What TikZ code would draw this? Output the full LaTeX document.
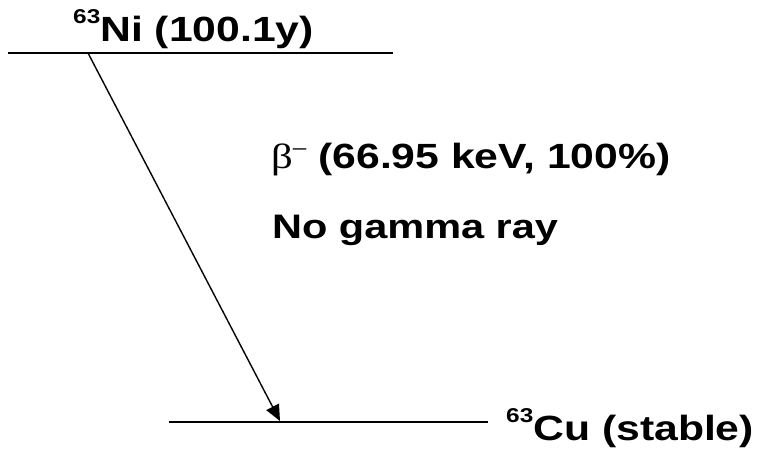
\documentclass[tikz,border=0pt]{standalone}
\usepackage{fontspec}
\setmainfont{Liberation Sans}[FakeStretch=1.22]
\newfontfamily\greekfont{Liberation Serif}[FakeStretch=1.22]
\usetikzlibrary{arrows.meta,positioning}
\newcommand{\iso}[2]{\raisebox{18pt}{\fontsize{20}{20}\selectfont #1}#2}
\tikzset{
  level/.style={line width=2.4pt},
  decay/.style={line width=1.4pt,-{Triangle[length=16pt,width=14pt]}},
  lbl/.style={font=\fontsize{35}{40}\bfseries\selectfont,inner sep=0pt}
}
\begin{document}
\begin{tikzpicture}[x=1pt,y=-1pt]
  \useasboundingbox (0,0) rectangle (761,448);

  % energy levels
  \coordinate (ni-l) at (8,53);
  \coordinate (ni-r) at (393,53);
  \coordinate (cu-l) at (169,422);
  \coordinate (cu-r) at (488,422);
  \draw[level] (ni-l) -- (ni-r);
  \draw[level] (cu-l) -- (cu-r);

  % decay arrow
  \coordinate (start) at (88,53);
  \coordinate (stop) at (280,421);
  \draw[decay] (start) -- (stop);

  % labels
  \node[lbl,anchor=base west] (ni) at (73,41) {\iso{63}{Ni (100.1y)}};
  \node[lbl,anchor=base west] (cu) at (506,440) {\iso{63}{Cu (stable)}};
  \node[lbl,anchor=base west] (beta) at (271,168) {{\mdseries\greekfont β}\raisebox{0.4em}{\fontsize{20}{20}\mdseries\selectfont –} (66.95 keV, 100\%)};
  \node[lbl,font=\fontsize{34}{40}\bfseries\selectfont,anchor=base west] (nogamma) at (272,238) {No gamma ray};
\end{tikzpicture}
\end{document}
